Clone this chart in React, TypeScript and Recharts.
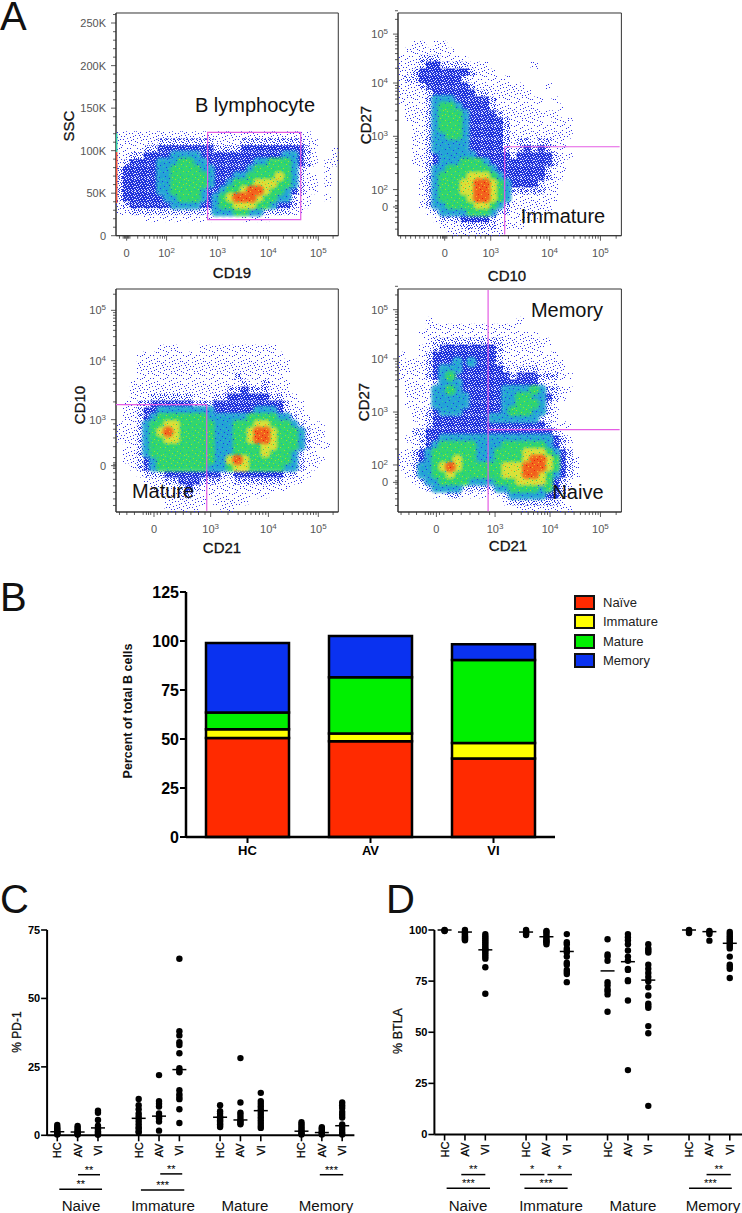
import {
  BarChart,
  Bar,
  Legend,
  ScatterChart,
  Scatter,
  XAxis,
  YAxis,
  ReferenceArea,
  ReferenceLine,
} from 'recharts';

const FONT = '"Liberation Sans", Arial, sans-serif';

// ---- panel A: density, 32 x 32 bins on a 0-1024 channel scale
// 0 empty, 1 sparse, 2 blue, 3 teal, 4 green, 5 yellow, 6 red
const blank = (n: number) => Array(n).fill('');

const cd19Density = [
  ...blank(17),
  '11111111 11111111 11111111 11110000',
  '11111122 22222211 11222222 22211000',
  '11112222 22222222 22222222 22221001',
  '11222222 33332222 22222222 33221001',
  '12222233 34433222 22223344 43221011',
  '22222233 44443322 22234444 43210010',
  '22222233 44444322 23344445 43211010',
  '22222233 44444322 34445554 43211010',
  '22222233 44443223 44566544 32211000',
  '22222223 34443234 56665443 32110010',
  '12222222 33332234 45554432 22110000',
  '11222222 22222233 34433222 21100000',
  '00001111 11111100 00111100 00000000',
];

const cd10Density = [
  ...blank(4),
  '00110110 00000000 00000000 00000000',
  '01111111 00000000 00000000 00000000',
  '11122211 11000000 00000000 00000000',
  '11122222 22111000 00010000 00000000',
  '11222222 22211100 00000000 00000000',
  '12222222 22111111 00000000 00000000',
  '11122222 22211111 11000100 00000000',
  '11112222 22222111 11100000 00000000',
  '11112333 22222211 11111010 00000000',
  '01112344 32222211 11110001 00000000',
  '01112344 43222221 11111110 00000000',
  '01112344 43222222 11111011 10000000',
  '00112344 43222222 11111111 10000000',
  '00112334 43222222 11111111 10000000',
  '00112333 33222222 12212211 00000000',
  '00112333 33222222 12222211 00000000',
  '00112233 33322222 22222221 10000000',
  '00112233 34443222 22222221 00000000',
  '00012334 44444322 22222211 00000000',
  '00012344 44555432 22222211 00000000',
  '00012344 45566543 22222110 00000000',
  '00012344 45566543 22222110 00000000',
  '00012344 44566543 11111110 00000000',
  '00012334 44455432 11111100 00000000',
  '00001233 33444322 11111100 00000000',
  '00000122 22222211 11110000 00000000',
  '00000011 12222211 11000000 00000000',
  '00000001 11111110 00000000 00000000',
];

const matureDensity = [
  ...blank(8),
  '00000011 10001111 11111110 00000000',
  '00011111 11111111 11111111 00000000',
  '00011111 11111111 11111111 10000000',
  '00011111 11111111 11111111 10000000',
  '00011111 11111111 12111111 00000000',
  '00111111 11111111 11211211 10000000',
  '00111111 11111111 22222211 10000000',
  '00111222 22211122 22222222 11000000',
  '01122222 22222222 22222222 21100000',
  '01122233 33333322 22223332 21100000',
  '01122344 44444333 33344443 32110000',
  '11123445 54444433 34445544 43211100',
  '11123456 54444433 34456654 44321100',
  '11123445 54444433 34456654 44321100',
  '01123444 44444433 34444554 44321110',
  '01123444 44444433 34444544 43211000',
  '01122344 44444433 56544444 43211100',
  '00122344 44444333 45544444 33211000',
  '00012222 22222222 22222222 22110000',
  '00001112 22222221 12222222 11100000',
  '00000111 12221111 11111111 10000000',
  '00000011 12211111 11111100 00000000',
  '00000001 11111011 11100000 00000000',
  '00000001 11110001 10000000 00000000',
];

const memoryDensity = [
  ...blank(4),
  '00001000 00000000 01000000 00000000',
  '00001111 11111111 10000000 00000000',
  '00011111 11111111 11110000 00000000',
  '00001222 22222221 11111100 00000000',
  '00011222 22222221 11111000 00000000',
  '10012222 22222221 11111110 00000000',
  '11112222 32322221 11111111 00000000',
  '11112233 32222222 12221111 00000000',
  '11112234 22222222 22222221 10000000',
  '01111233 32222222 22222110 00000000',
  '01111334 32222223 33343221 10000000',
  '01111333 33222223 34433221 00000000',
  '01111333 33222223 34443210 00000000',
  '00112233 32222223 44433210 00000000',
  '00112222 22222333 33332110 00000000',
  '00012222 22222222 22222211 10000000',
  '00222222 22222222 22222221 00000000',
  '01122233 33333333 33333322 10000000',
  '00122344 44433334 44444322 10000000',
  '11223444 44433344 44555432 20000000',
  '11223444 54433344 44566542 21000000',
  '11233456 54444445 55666542 21000000',
  '01233445 44444445 55665432 21000000',
  '00123344 44333344 45555422 10000000',
  '00012333 32222233 44443422 10000000',
  '00000112 21111112 33333222 10000000',
  '00000000 00000001 22222221 00000000',
  '00000000 00000000 01111111 10000000',
];

const GLOW_LEVELS = [3, 4, 5, 6];
const levelFill = ['', '', '', 'url(#glowTeal)', 'url(#glowGreen)', 'url(#glowYellow)', 'url(#glowRed)'];
const grainFill = ['', '', '', 'url(#grainTeal)', 'url(#grainGreen)', 'url(#grainYellow)', 'url(#grainRed)'];

// axis ticks in channel units
const decade = (from: number, to: number) => [2, 3, 4, 5, 6, 7, 8, 9].map((n) => from + (to - from) * Math.log10(n));

const cd19Ticks = [49, 233, 468, 702, 932];
const cd19Labels = ['0', '10^2', '10^3', '10^4', '10^5'];
const cd19Minor = [16, 33, 39, 44, 53, 58, 64, 100, 130, 155, 175, 190, 203, 214, 224, ...decade(233, 468), ...decade(468, 702), ...decade(702, 932), 1000];

const sscTicks = [0, 195.5, 391, 586.5, 782, 978];
const sscLabels = ['0', '50K', '100K', '150K', '200K', '250K'];
const sscMinor = [39, 78, 117, 156, 235, 274, 313, 352, 430, 469, 508, 547, 625, 664, 704, 743, 821, 860, 899, 938, 1017];

const cd10xTicks = [214, 425, 695, 928];
const cd10xLabels = ['0', '10^3', '10^4', '10^5'];
const cd10xMinor = [12, 35, 58, 80, 100, 120, 140, 160, 180, 195, 204, 209, 219, 224, 250, 290, 325, 355, 380, 400, ...decade(425, 695), ...decade(695, 928), 1000];

const cd27aTicks = [132, 212, 457, 702, 927];
const cd27aLabels = ['0', '10^2', '10^3', '10^4', '10^5'];
const logY = (a: number, b: number, c: number, d: number) => [...decade(a, b), ...decade(b, c), ...decade(c, d), ...decade(d, d + 225)];
const cd27aMinor = [30, 60, 85, 110, 125, 139, 160, 185, ...logY(212, 457, 702, 927)];

const cd21aTicks = [175, 436, 702, 932];
const cd21aLabels = ['0', '10^3', '10^4', '10^5'];
const cd21aMinor = [16, 50, 85, 125, 140, 150, 160, 190, 205, 240, 275, 310, 345, 380, 410, ...decade(436, 702), ...decade(702, 932), 1000];

const cd10yTicks = [213, 424, 695, 926];
const cd10yLabels = ['0', '10^3', '10^4', '10^5'];
const cd10yMinor = [30, 60, 90, 120, 150, 180, 200, 207, 219, 226, 250, 300, 340, 380, 405, ...decade(424, 695), ...decade(695, 926), 1000];

const cd21bTicks = [176, 445, 697, 928];
const cd21bLabels = ['0', '10^3', '10^4', '10^5'];
const cd21bMinor = [14, 50, 85, 125, 140, 150, 162, 190, 210, 250, 290, 330, 370, 420, ...decade(445, 697), ...decade(697, 928), 1000];

const cd27bTicks = [136, 216, 459, 703, 929];
const cd27bLabels = ['0', '10^2', '10^3', '10^4', '10^5'];
const cd27bMinor = [30, 60, 85, 110, 128, 143, 165, 190, ...logY(216, 459, 703, 929)];

// ---- panel B
const groupNames = ['HC', 'AV', 'VI'];
const naiveShare = [50.5, 48.8, 40];
const immatureShare = [4.5, 4, 8];
const matureShare = [8.5, 28.7, 42.3];
const memoryShare = [35.5, 21.1, 8.1];
const shareRows = groupNames.map((name, i) => ({
  name,
  naive: naiveShare[i],
  immature: immatureShare[i],
  mature: matureShare[i],
  memory: memoryShare[i],
}));

// ---- panels C and D: slots 0-14 with a gap between the B cell subsets
const slotOf = [0, 1, 2, 4, 5, 6, 8, 9, 10, 12, 13, 14];
const slotTicks = ['HC', 'AV', 'VI', '', 'HC', 'AV', 'VI', '', 'HC', 'AV', 'VI', '', 'HC', 'AV', 'VI'];

const pd1NaiveHC = [3.8, 3, 2.5, 2, 1.5, 1, 0.8, 0.5, 0.3];
const pd1NaiveAV = [3.4, 2.8, 2, 1.5, 1, 0.7, 0.4, 0.3];
const pd1NaiveVI = [9, 8.2, 5.6, 3.5, 2.8, 2.2, 1.5, 1, 0.5, 0.2];
const pd1ImmHC = [13.3, 11, 9.5, 8, 7, 6, 5, 4, 3, 2.5, 1.5, 1];
const pd1ImmAV = [22, 12.5, 11.5, 10.5, 8, 7, 6.5, 6, 5, 1.7];
const pd1ImmVI = [64.5, 38, 36.5, 34, 33, 30, 24.5, 23.5, 23, 16.5, 15, 14, 13.2, 9.5, 4.5];
const pd1MatHC = [11, 8.8, 8, 7, 6.5, 6, 5.5, 5, 4.5, 4, 3.5, 3];
const pd1MatAV = [28.2, 12, 8.3, 7.5, 6.5, 5.5, 5, 4.5, 4];
const pd1MatVI = [15.5, 12.5, 11.5, 10.5, 9.5, 8.5, 7.5, 6.5, 5.5, 4.5, 3.5, 2.7];
const pd1MemHC = [4.8, 4, 3.2, 2.5, 1.8, 1.2, 0.7, 0.3];
const pd1MemAV = [3, 2.5, 2, 1.4, 1, 0.6, 0.3];
const pd1MemVI = [12, 11, 10, 8.5, 7.5, 6.5, 4, 3, 2, 1, 0.3];
const pd1Means = [1.3, 1.2, 2.7, 6.2, 7, 24, 6.6, 5.6, 9, 1.5, 1, 3.5];
const pd1Groups = [pd1NaiveHC, pd1NaiveAV, pd1NaiveVI, pd1ImmHC, pd1ImmAV, pd1ImmVI, pd1MatHC, pd1MatAV, pd1MatVI, pd1MemHC, pd1MemAV, pd1MemVI];

const btlaNaiveHC = [100, 99.8, 99.5];
const btlaNaiveAV = [100, 99, 98.5, 98, 97.5, 97, 96.5, 96, 95.5, 95];
const btlaNaiveVI = [98, 97, 96, 95, 94, 93, 92, 91, 90.5, 90, 89, 88, 87, 86, 81.8, 68.8];
const btlaImmHC = [100, 99.5, 99, 98.5, 98, 97.5];
const btlaImmAV = [99.5, 99, 98, 97, 96, 95, 94.5, 94, 93];
const btlaImmVI = [98, 94, 93, 91, 90, 89, 87, 84, 83, 80.5, 79.5, 78.5, 74.5];
const btlaMatHC = [95.5, 88, 87, 85, 74.5, 73, 71, 70, 68.5, 60];
const btlaMatAV = [98, 96.5, 95, 93, 90, 87, 85, 81, 80.5, 75.5, 75, 65.5, 31.5];
const btlaMatVI = [93, 91, 90, 89, 83, 81, 79, 77, 75, 72, 68, 64, 63, 62, 53, 49.5, 14];
const btlaMemHC = [100, 99.5, 98.5];
const btlaMemAV = [99.5, 99, 98, 94.8];
const btlaMemVI = [99, 98, 97, 96, 95, 94, 93, 92, 91, 87, 83, 82, 81, 76.5];
const btlaMeans = [100, 99, 90.3, 99, 96.7, 89.5, 80, 84.5, 75.5, 100, 99.2, 93.5];
const btlaGroups = [btlaNaiveHC, btlaNaiveAV, btlaNaiveVI, btlaImmHC, btlaImmAV, btlaImmVI, btlaMatHC, btlaMatAV, btlaMatVI, btlaMemHC, btlaMemAV, btlaMemVI];

// significance brackets: from slot, to slot, level on the value axis, stars
const pd1Brackets: [number, number, number, string][] = [
  [1.02, 2.1, -14.4, '**'],
  [0.1, 2.2, -19.7, '**'],
  [5.06, 6.14, -14.1, '**'],
  [4.11, 6.24, -20, '***'],
  [12.9, 14.05, -14.4, '***'],
];
const btlaBrackets: [number, number, number, string][] = [
  [0.82, 2, -19.6, '**'],
  [0.1, 2.23, -26.3, '***'],
  [3.7, 4.9, -19.6, '*'],
  [5.05, 6.25, -19.6, '*'],
  [3.92, 6.04, -26.3, '***'],
  [12.86, 14.05, -19.6, '**'],
  [12, 14.1, -26.3, '***'],
];

// texture for the low density classes and the grain on the blobs
const sparseSpecks = [[1, 2], [5, 0], [9, 3], [14, 1], [18, 4], [3, 6], [7, 8], [12, 6], [16, 9], [20, 7], [0, 11], [5, 12], [10, 10], [14, 13], [19, 11], [2, 16], [7, 15], [12, 17], [17, 15], [21, 18], [4, 20], [9, 19], [15, 20], [19, 21]];
const extraSpecks = [[3, 1], [11, 1], [21, 1], [7, 4], [15, 5], [1, 8], [10, 7], [18, 7], [22, 9], [3, 10], [13, 9], [8, 12], [17, 12], [1, 13], [11, 14], [21, 14], [4, 15], [15, 16], [9, 17], [19, 17], [1, 19], [13, 19], [6, 21], [17, 21]];
const denseGaps = [
  [0, 0], [3, 0], [6, 0], [9, 0], [12, 0], [1, 1], [4, 1], [7, 2], [10, 1], [12, 2], [2, 3], [5, 3], [8, 3], [0, 4], [11, 4],
  [3, 5], [6, 5], [9, 5], [12, 5], [1, 6], [4, 7], [7, 7], [10, 7], [0, 8], [2, 8], [5, 9], [8, 9], [11, 9], [12, 8], [1, 10],
  [3, 10], [6, 11], [9, 11], [12, 11], [0, 12], [4, 12], [7, 12], [10, 12], [2, 11], [5, 6],
];

const levelsOf = (rows: string[]) => rows.map((row) => row.replace(/ /g, '').split('').map(Number));

const binPoint = (r: number, col: number) => ({ x: ((col + 0.5) / 32) * 1024, y: 1024 - ((r + 0.5) / 32) * 1024 });

const cellsAt = (rows: string[], level: number) => {
  const cells: { x: number; y: number }[] = [];
  levelsOf(rows).forEach((row, r) => row.forEach((v, col) => v === level && cells.push(binPoint(r, col))));
  return cells;
};

// blue bins split into the ones on the fringe of a cloud and the ones inside it
const blueCells = (rows: string[], fringe: boolean) => {
  const grid = levelsOf(rows);
  const at = (r: number, c: number) => (grid[r] && grid[r][c]) || 0;
  const cells: { x: number; y: number }[] = [];
  grid.forEach((row, r) =>
    row.forEach((v, c) => {
      if (v !== 2) return;
      const edge = at(r - 1, c) < 2 || at(r + 1, c) < 2 || at(r, c - 1) < 2 || at(r, c + 1) < 2;
      if (edge === fringe) cells.push(binPoint(r, c));
    }),
  );
  return cells;
};

const FlowTick = (props: any) => {
  const { x, y, payload, majors, labels, vertical } = props;
  const i = majors.indexOf(payload.value);
  const isMajor = i >= 0;
  const len = isMajor ? 5 : 3;
  const parts = isMajor ? String(labels[i]).split('^') : [];
  return (
    <g>
      {vertical ? (
        <line x1={x} x2={x - len} y1={y} y2={y} stroke="#333" strokeWidth={0.8} />
      ) : (
        <line x1={x} x2={x} y1={y} y2={y + len} stroke="#333" strokeWidth={0.8} />
      )}
      {isMajor && (
        <text
          x={vertical ? x - 10 : x}
          y={vertical ? y + 4 : y + 21}
          textAnchor={vertical ? 'end' : 'middle'}
          fontSize={11}
          fontFamily={FONT}
          fill="#555"
        >
          {parts[0]}
          {parts[1] && (
            <tspan dy={-4} fontSize={8}>
              {parts[1]}
            </tspan>
          )}
        </text>
      )}
    </g>
  );
};

const FlowPlot = (props: any) => {
  const { left, top, size, height, density, xMajor, xLabels, xMinor, yMajor, yLabels, yMinor, children } = props;
  const cell = size / 32;
  const cw = 46;
  const box = (fill: string) => (p: any) => <rect x={p.cx - cell / 2} y={p.cy - cell / 2} width={cell + 0.3} height={cell + 0.3} fill={fill} />;
  return (
    <div style={{ position: 'absolute', left: left - cw, top: top - 4 }}>
      <ScatterChart width={cw + size + 4} height={4 + height + 30} margin={{ top: 4, right: 4, left: 0, bottom: 0 }}>
        <XAxis
          type="number"
          dataKey="x"
          domain={[0, 1024]}
          ticks={[...xMajor, ...xMinor]}
          interval={0}
          height={30}
          tickLine={false}
          tickSize={0}
          tickMargin={0}
          axisLine={{ stroke: '#333', strokeWidth: 1 }}
          tick={(p: any) => <FlowTick {...p} majors={xMajor} labels={xLabels} />}
        />
        <YAxis
          type="number"
          dataKey="y"
          domain={[0, 1024]}
          ticks={[...yMajor, ...yMinor]}
          interval={0}
          width={cw}
          tickLine={false}
          tickSize={0}
          tickMargin={0}
          axisLine={{ stroke: '#333', strokeWidth: 1 }}
          tick={(p: any) => <FlowTick {...p} majors={yMajor} labels={yLabels} vertical />}
        />
        <Scatter data={cellsAt(density, 1)} isAnimationActive={false} shape={box('url(#sparseBlue)')} />
        <Scatter data={blueCells(density, true)} isAnimationActive={false} shape={box('url(#midBlue)')} />
        <Scatter data={blueCells(density, false)} isAnimationActive={false} shape={box('url(#denseBlue)')} />
        {GLOW_LEVELS.map((level) => (
          <Scatter
            key={level}
            data={cellsAt(density, level)}
            isAnimationActive={false}
            shape={(p: any) => <circle cx={p.cx} cy={p.cy} r={cell * 1.05} fill={levelFill[level]} />}
          />
        ))}
        {GLOW_LEVELS.map((level) => (
          <Scatter key={`grain${level}`} data={cellsAt(density, level)} isAnimationActive={false} shape={box(grainFill[level])} />
        ))}
        {children}
        <ReferenceArea x1={0} x2={1024} y1={0} y2={1024} fill="none" stroke="#333" strokeWidth={1} />
      </ScatterChart>
    </div>
  );
};

const SlotTick = (props: any) => {
  const { x, y, payload } = props;
  const label = slotTicks[payload.value];
  if (!label) return <g />;
  return (
    <g>
      <line x1={x} x2={x} y1={y} y2={y + 6} stroke="#000" strokeWidth={1.6} />
      <text
        transform={`translate(${x + 4},${y + 15}) rotate(-90)`}
        textAnchor="middle"
        fontSize={11}
        fontFamily={FONT}
        fill="#000"
        stroke="#000"
        strokeWidth={0.25}
      >
        {label}
      </text>
    </g>
  );
};

const DotPlot = (props: any) => {
  const { left, axisWidth, width, plotHeight, domain, yTicks, xMax, groups, means, brackets, rightMargin } = props;
  const dots = groups.flatMap((g: number[], i: number) => g.map((y) => ({ x: slotOf[i], y })));
  const meanPoints = means.map((y: number, i: number) => ({ x: slotOf[i], y }));
  return (
    <div style={{ position: 'absolute', left, top: 920 }}>
      <ScatterChart width={width} height={10 + plotHeight + 78} margin={{ top: 10, right: rightMargin, left: 0, bottom: 0 }}>
        <XAxis
          type="number"
          dataKey="x"
          domain={[-0.5, xMax]}
          ticks={slotOf}
          interval={0}
          height={78}
          tickLine={false}
          tickSize={0}
          tickMargin={0}
          axisLine={{ stroke: '#000', strokeWidth: 2 }}
          tick={<SlotTick />}
        />
        <YAxis
          type="number"
          dataKey="y"
          domain={domain}
          ticks={yTicks}
          interval={0}
          width={axisWidth}
          tickSize={6}
          tickMargin={1}
          tickLine={{ stroke: '#000', strokeWidth: 1.6 }}
          axisLine={{ stroke: '#000', strokeWidth: 2 }}
          tick={{ fontSize: 11, fontWeight: 'bold', fontFamily: FONT, fill: '#000' }}
        />
        <Scatter data={dots} isAnimationActive={false} shape={(p: any) => <circle cx={p.cx} cy={p.cy} r={3.2} fill="#000" />} />
        <Scatter
          data={meanPoints}
          isAnimationActive={false}
          shape={(p: any) => <line x1={p.cx - 7} x2={p.cx + 7} y1={p.cy} y2={p.cy} stroke="#000" strokeWidth={1.5} />}
        />
        {brackets.map(([a, b, level, stars]: [number, number, number, string]) => (
          <ReferenceLine
            key={`${a}-${b}`}
            segment={[
              { x: a, y: level },
              { x: b, y: level },
            ]}
            stroke="#000"
            strokeWidth={1.5}
            ifOverflow="visible"
            label={{ value: stars, position: 'center', dy: -5, fontSize: 11, fontFamily: FONT, fill: '#000' }}
          />
        ))}
      </ScatterChart>
    </div>
  );
};

const ShareLegend = (props: any) => (
  <div style={{ paddingLeft: 19 }}>
    {props.payload.map((item: any) => (
      <div key={item.value} style={{ display: 'flex', alignItems: 'center', height: 19.3, fontFamily: FONT, fontSize: 13, color: '#222' }}>
        <span style={{ width: 17, height: 11, border: '2px solid #111', background: item.color, marginRight: 8 }} />
        {item.value}
      </div>
    ))}
  </div>
);

const T = (props: any) => {
  const { x, y, size = 15, rotate, anchor = 'middle', heavy, firm, children } = props;
  return (
    <text
      x={rotate ? 0 : x}
      y={rotate ? 0 : y}
      transform={rotate ? `translate(${x},${y}) rotate(-90)` : undefined}
      textAnchor={anchor}
      fontSize={size}
      fontFamily={FONT}
      fontWeight={heavy ? 'bold' : 'normal'}
      dominantBaseline={anchor === 'start' ? undefined : 'central'}
      fill="#111"
      stroke={firm ? '#111' : 'none'}
      strokeWidth={0.3}
    >
      {children}
    </text>
  );
};

const GATE = { stroke: '#e45ce4', strokeWidth: 1.2, zIndex: 900 };

const App = () => (
  <div style={{ position: 'absolute', left: 0, top: 0, width: 742, height: 1213, overflow: 'hidden', background: '#fff' }}>
    <svg width={0} height={0} style={{ position: 'absolute' }}>
      <defs>
        <pattern id="sparseBlue" width={23} height={23} patternUnits="userSpaceOnUse">
          {[...sparseSpecks, ...extraSpecks].map(([x, y]) => (
            <rect key={`${x}-${y}`} x={x} y={y} width={1} height={1} fill="#3030e8" />
          ))}
        </pattern>
        <pattern id="midBlue" width={13} height={13} patternUnits="userSpaceOnUse">
          {denseGaps.map(([x, y]) => (
            <rect key={`${x}-${y}`} x={x} y={y} width={1} height={1} fill="#2030e0" />
          ))}
          {sparseSpecks.filter(([x, y]) => x < 13 && y < 13).map(([x, y]) => (
            <rect key={`${x}-${y}`} x={x} y={y} width={1} height={1} fill="#2030e0" />
          ))}
        </pattern>
        <pattern id="denseBlue" width={13} height={13} patternUnits="userSpaceOnUse">
          <rect width={13} height={13} fill="#1f32dc" />
          {denseGaps.map(([x, y]) => (
            <rect key={`${x}-${y}`} x={x} y={y} width={1} height={1} fill="#dfe3fd" />
          ))}
        </pattern>
        {[
          ['grainTeal', '#1c3ce0', '#2cd0a0'],
          ['grainGreen', '#14b0c8', '#a0e030'],
          ['grainYellow', '#30d060', '#f0a020'],
          ['grainRed', '#f0c020', '#e81808'],
        ].map(([id, first, second]) => (
          <pattern key={id} id={id} width={23} height={23} patternUnits="userSpaceOnUse">
            {sparseSpecks.map(([x, y]) => (
              <rect key={`${x}-${y}`} x={x} y={y} width={1} height={1} fill={first} />
            ))}
            {extraSpecks.map(([x, y]) => (
              <rect key={`${x}-${y}`} x={x} y={y} width={1} height={1} fill={second} />
            ))}
          </pattern>
        ))}
        {[
          ['glowTeal', '#1aa0d4'],
          ['glowGreen', '#28d468'],
          ['glowYellow', '#d8e030'],
          ['glowRed', '#f25a14'],
        ].map(([id, color]) => (
          <radialGradient key={id} id={id}>
            <stop offset="0%" stopColor={color} stopOpacity={1} />
            <stop offset="45%" stopColor={color} stopOpacity={0.85} />
            <stop offset="100%" stopColor={color} stopOpacity={0} />
          </radialGradient>
        ))}
      </defs>
    </svg>

    <FlowPlot left={116} top={13.3} size={222.3} height={222.7} density={cd19Density} xMajor={cd19Ticks} xLabels={cd19Labels} xMinor={cd19Minor} yMajor={sscTicks} yLabels={sscLabels} yMinor={sscMinor}>
      <ReferenceLine segment={[{ x: 3, y: 150 }, { x: 3, y: 385 }]} stroke="#e8503a" strokeWidth={1.5} zIndex={900} />
      <ReferenceLine segment={[{ x: 3, y: 385 }, { x: 3, y: 470 }]} stroke="#2ac8a0" strokeWidth={1.5} zIndex={900} />
      <ReferenceArea x1={422} x2={851} y1={74} y2={475} fill="none" {...GATE} />
    </FlowPlot>
    <FlowPlot left={398.3} top={13.3} size={223.4} height={222.7} density={cd10Density} xMajor={cd10xTicks} xLabels={cd10xLabels} xMinor={cd10xMinor} yMajor={cd27aTicks} yLabels={cd27aLabels} yMinor={cd27aMinor}>
      <ReferenceLine segment={[{ x: 489, y: 5 }, { x: 489, y: 409 }]} {...GATE} />
      <ReferenceLine segment={[{ x: 489, y: 409 }, { x: 1016, y: 409 }]} {...GATE} />
    </FlowPlot>
    <FlowPlot left={116} top={289.3} size={222.3} height={223} density={matureDensity} xMajor={cd21aTicks} xLabels={cd21aLabels} xMinor={cd21aMinor} yMajor={cd10yTicks} yLabels={cd10yLabels} yMinor={cd10yMinor}>
      <ReferenceLine segment={[{ x: 0, y: 493 }, { x: 418, y: 493 }]} {...GATE} />
      <ReferenceLine segment={[{ x: 418, y: 6 }, { x: 418, y: 493 }]} {...GATE} />
    </FlowPlot>
    <FlowPlot left={398.3} top={289.3} size={223.4} height={223} density={memoryDensity} xMajor={cd21bTicks} xLabels={cd21bLabels} xMinor={cd21bMinor} yMajor={cd27bTicks} yLabels={cd27bLabels} yMinor={cd27bMinor}>
      <ReferenceLine segment={[{ x: 413, y: 3 }, { x: 413, y: 1020 }]} {...GATE} />
      <ReferenceLine segment={[{ x: 413, y: 378 }, { x: 1016, y: 378 }]} {...GATE} />
    </FlowPlot>

    <div style={{ position: 'absolute', left: 100, top: 582 }}>
      <BarChart width={600} height={285} data={shareRows} barSize={83} margin={{ top: 10, right: 0, left: 0, bottom: 0 }}>
        <XAxis
          dataKey="name"
          height={30}
          tickSize={6}
          tickMargin={3}
          axisLine={{ stroke: '#000', strokeWidth: 2.5 }}
          tickLine={{ stroke: '#000', strokeWidth: 2 }}
          tick={{ fontSize: 13, fontWeight: 'bold', fontFamily: FONT, fill: '#000' }}
        />
        <YAxis
          type="number"
          domain={[0, 125]}
          ticks={[0, 25, 50, 75, 100, 125]}
          width={86}
          tickSize={6}
          tickMargin={1}
          axisLine={{ stroke: '#000', strokeWidth: 2.5 }}
          tickLine={{ stroke: '#000', strokeWidth: 2 }}
          tick={{ fontSize: 16, fontWeight: 'bold', fontFamily: FONT, fill: '#000' }}
        />
        <Legend layout="vertical" align="right" verticalAlign="top" width={145} itemSorter={null} wrapperStyle={{ top: 11, right: 0 }} content={<ShareLegend />} />
        <Bar dataKey="naive" name="Naïve" stackId="b" fill="#ff2a00" stroke="#000" strokeWidth={2.5} isAnimationActive={false} />
        <Bar dataKey="immature" name="Immature" stackId="b" fill="#ffff00" stroke="#000" strokeWidth={2.5} isAnimationActive={false} />
        <Bar dataKey="mature" name="Mature" stackId="b" fill="#00f000" stroke="#000" strokeWidth={2.5} isAnimationActive={false} />
        <Bar dataKey="memory" name="Memory" stackId="b" fill="#0a32f0" stroke="#000" strokeWidth={2.5} isAnimationActive={false} />
      </BarChart>
    </div>

    <DotPlot left={0} axisWidth={47.1} width={360} rightMargin={5.6} plotHeight={205.3} domain={[0, 75]} yTicks={[0, 25, 50, 75]} xMax={14.6} groups={pd1Groups} means={pd1Means} brackets={pd1Brackets} />
    <DotPlot left={370} axisWidth={64.4} width={372} rightMargin={0} plotHeight={204.5} domain={[0, 100]} yTicks={[0, 25, 50, 75, 100]} xMax={14.6} groups={btlaGroups} means={btlaMeans} brackets={btlaBrackets} />

    <svg width={742} height={1213} style={{ position: 'absolute', left: 0, top: 0, pointerEvents: 'none' }}>
      <T x={0} y={30} size={40} anchor="start">A</T>
      <T x={0} y={611} size={40} anchor="start">B</T>
      <T x={0} y={913} size={40} anchor="start">C</T>
      <T x={386} y={913} size={40} anchor="start">D</T>

      <T x={255} y={105} size={20}>B lymphocyte</T>
      <T x={563} y={216} size={20}>Immature</T>
      <T x={163} y={491} size={20}>Mature</T>
      <T x={567} y={310} size={20}>Memory</T>
      <T x={578} y={492} size={20}>Naive</T>

      <T x={68} y={126} rotate firm>SSC</T>
      <T x={232} y={272} firm>CD19</T>
      <T x={365} y={125} rotate firm>CD27</T>
      <T x={507} y={275} firm>CD10</T>
      <T x={79} y={405} rotate firm>CD10</T>
      <T x={222} y={547} firm>CD21</T>
      <T x={363} y={402} rotate firm>CD27</T>
      <T x={508} y={545} firm>CD21</T>

      <T x={128} y={711} size={12.5} rotate heavy>Percent of total B cells</T>
      <T x={17} y={1032} size={12} rotate firm>% PD-1</T>
      <T x={398} y={1031} size={12.5} rotate firm>% BTLA</T>

      <T x={81} y={1205} size={15.1}>Naive</T>
      <T x={163} y={1205} size={15.1}>Immature</T>
      <T x={245} y={1205} size={15.1}>Mature</T>
      <T x={326} y={1205} size={15.1}>Memory</T>
      <T x={468} y={1205} size={15.1}>Naive</T>
      <T x={551} y={1205} size={15.1}>Immature</T>
      <T x={633} y={1205} size={15.1}>Mature</T>
      <T x={713} y={1205} size={15.1}>Memory</T>
    </svg>
  </div>
);

export default App;
